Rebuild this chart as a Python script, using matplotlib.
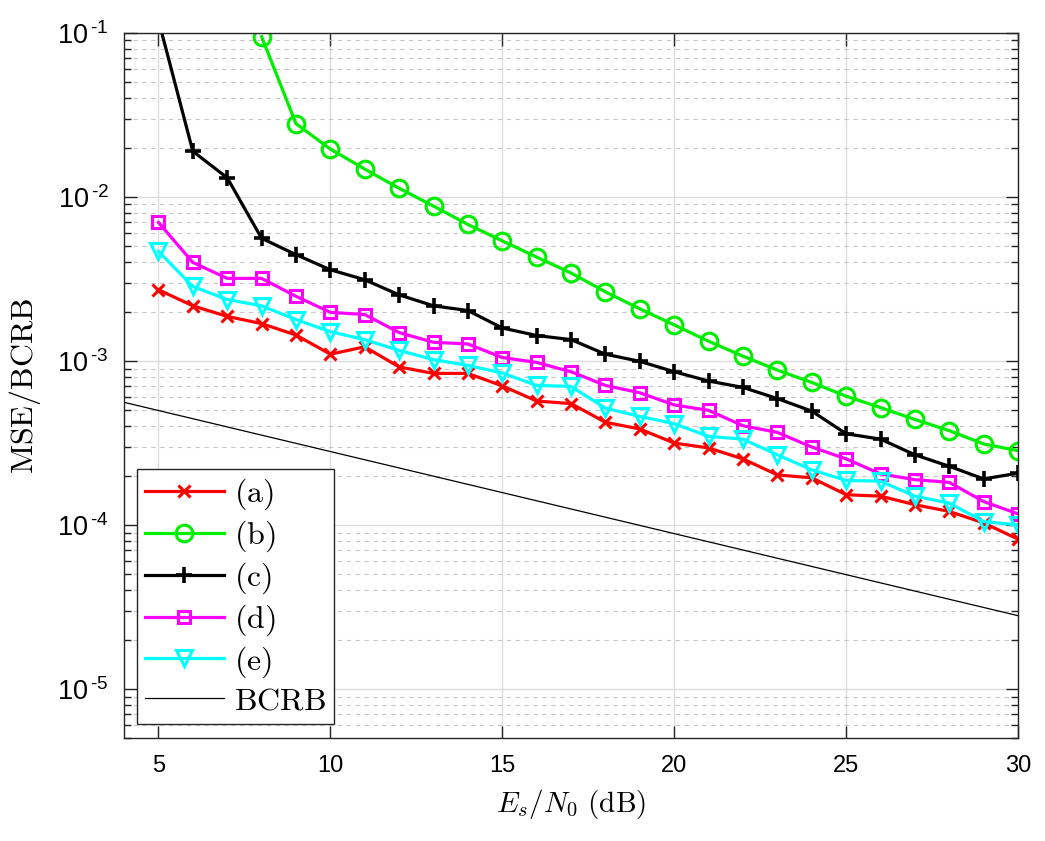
import matplotlib
matplotlib.use("Agg")
import matplotlib.pyplot as plt
from matplotlib.ticker import FixedLocator, FuncFormatter, LogLocator, NullFormatter
import numpy as np

# Es/N0 grid (dB)
snr = [5, 6, 7, 8, 9, 10, 11, 12, 13, 14, 15, 16, 17, 18, 19, 20, 21, 22,
       23, 24, 25, 26, 27, 28, 29, 30]

mse_a = [2.72e-3, 2.17e-3, 1.87e-3, 1.69e-3, 1.44e-3, 1.10e-3, 1.22e-3, 9.2e-4,
         8.4e-4, 8.4e-4, 7.05e-4, 5.7e-4, 5.5e-4, 4.23e-4, 3.85e-4, 3.16e-4,
         2.95e-4, 2.53e-4, 2.02e-4, 1.94e-4, 1.53e-4, 1.50e-4, 1.33e-4, 1.21e-4,
         1.03e-4, 8.2e-5]
snr_b = snr[3:]
mse_b = [9.5e-2, 2.80e-2, 1.96e-2, 1.48e-2, 1.13e-2, 8.8e-3, 6.8e-3, 5.4e-3,
         4.3e-3, 3.44e-3, 2.64e-3, 2.08e-3, 1.66e-3, 1.32e-3, 1.07e-3, 8.8e-4,
         7.4e-4, 6.1e-4, 5.2e-4, 4.4e-4, 3.76e-4, 3.12e-4, 2.84e-4]
mse_c = [1.2e-1, 1.90e-2, 1.31e-2, 5.6e-3, 4.45e-3, 3.60e-3, 3.13e-3, 2.53e-3,
         2.17e-3, 2.03e-3, 1.59e-3, 1.43e-3, 1.35e-3, 1.10e-3, 9.95e-4, 8.6e-4,
         7.55e-4, 6.9e-4, 5.9e-4, 4.95e-4, 3.6e-4, 3.34e-4, 2.68e-4, 2.28e-4,
         1.91e-4, 2.07e-4]
mse_d = [7.0e-3, 3.99e-3, 3.19e-3, 3.19e-3, 2.48e-3, 1.98e-3, 1.92e-3, 1.49e-3,
         1.30e-3, 1.27e-3, 1.05e-3, 9.8e-4, 8.6e-4, 7.1e-4, 6.4e-4, 5.4e-4,
         5.0e-4, 4.03e-4, 3.67e-4, 2.99e-4, 2.53e-4, 2.05e-4, 1.89e-4, 1.82e-4,
         1.39e-4, 1.17e-4]
mse_e = [4.66e-3, 2.85e-3, 2.37e-3, 2.17e-3, 1.79e-3, 1.51e-3, 1.35e-3, 1.16e-3,
         1.02e-3, 9.4e-4, 8.45e-4, 7.1e-4, 7.0e-4, 5.16e-4, 4.59e-4, 4.15e-4,
         3.47e-4, 3.34e-4, 2.68e-4, 2.17e-4, 1.87e-4, 1.85e-4, 1.50e-4, 1.36e-4,
         1.05e-4, 1.00e-4]
# BCRB (straight line on the log axis)
snr_bcrb = [4, 30]
bcrb = [5.6e-4, 2.8e-5]

labels = ['(a)', '(b)', '(c)', '(d)', '(e)']


def decade_label(v, pos):
    # MATLAB-like "10^-n" with a plain hyphen
    return r'$\mathregular{10^{\,' + '\u2010' + '%d}}$' % abs(int(round(np.log10(v))))


def main():
    plt.rcParams['mathtext.fontset'] = 'cm'
    plt.rcParams['font.family'] = ['Liberation Sans', 'DejaVu Sans']

    fig = plt.figure(figsize=(10.45, 8.41), dpi=100)
    ax = fig.add_axes([0.1187, 0.122, 0.8555, 0.8388])

    lw = 2.3
    ax.plot(snr, mse_a, color='#ff0000', lw=lw, marker='x', ms=9, mew=2.2,
            label=r'$\mathrm{' + labels[0] + '}$')
    ax.plot(snr_b, mse_b, color='#00ee00', lw=lw, marker='o', ms=12, mew=2.2,
            mfc='none', label=r'$\mathrm{' + labels[1] + '}$')
    ax.plot(snr, mse_c, color='k', lw=lw, marker='+', ms=12, mew=2.6,
            label=r'$\mathrm{' + labels[2] + '}$')
    ax.plot(snr, mse_d, color='#ff00ff', lw=lw, marker='s', ms=9, mew=2.2,
            mfc='none', label=r'$\mathrm{' + labels[3] + '}$')
    ax.plot(snr, mse_e, color='#00ffff', lw=lw, marker='v', ms=12, mew=2.2,
            mfc='none', label=r'$\mathrm{' + labels[4] + '}$')
    ax.plot(snr_bcrb, bcrb, color='k', lw=0.9, label=r'$\mathrm{BCRB}$')

    # axes
    ax.set_yscale('log')
    ax.set_xlim([4, 30])
    ax.set_ylim([5e-6, 1e-1])
    ax.xaxis.set_major_locator(FixedLocator([5, 10, 15, 20, 25, 30]))
    ax.yaxis.set_major_locator(LogLocator(base=10, numticks=10))
    ax.yaxis.set_minor_locator(LogLocator(base=10, subs=np.arange(2, 10), numticks=20))
    ax.yaxis.set_minor_formatter(NullFormatter())
    ax.yaxis.set_major_formatter(FuncFormatter(decade_label))

    ax.grid(True, which='major', color='#dcdcdc', lw=1.0, ls='-')
    ax.grid(True, which='minor', axis='y', color='#c8c8c8', lw=0.8, ls=(0, (4, 4)))
    ax.set_axisbelow(True)
    ax.tick_params(which='both', direction='in', top=True, right=True,
                   width=1.0, color='#262626')
    ax.tick_params(which='major', length=9)
    ax.tick_params(which='minor', length=5)
    ax.tick_params(axis='x', which='major', pad=12, labelsize=17)
    ax.tick_params(axis='y', which='major', pad=11, labelsize=19.5)
    for s in ax.spines.values():
        s.set_color('#262626')
        s.set_linewidth(1.0)

    # labels
    ax.set_xlabel(r'$E_s/N_0\ \mathrm{(dB)}$', fontsize=21, labelpad=7)
    ax.set_ylabel(r'$\mathrm{MSE/BCRB}$', fontsize=23, labelpad=10)

    leg = ax.legend(loc='lower left', bbox_to_anchor=(0.014, 0.02), fontsize=23,
                    fancybox=False, framealpha=1, edgecolor='#262626',
                    handlelength=2.5, handletextpad=0.3, labelspacing=0.2,
                    borderpad=0.25, borderaxespad=0)
    leg.get_frame().set_linewidth(1.0)

    fig.savefig('out.png', dpi=100)


if __name__ == "__main__":
    main()
